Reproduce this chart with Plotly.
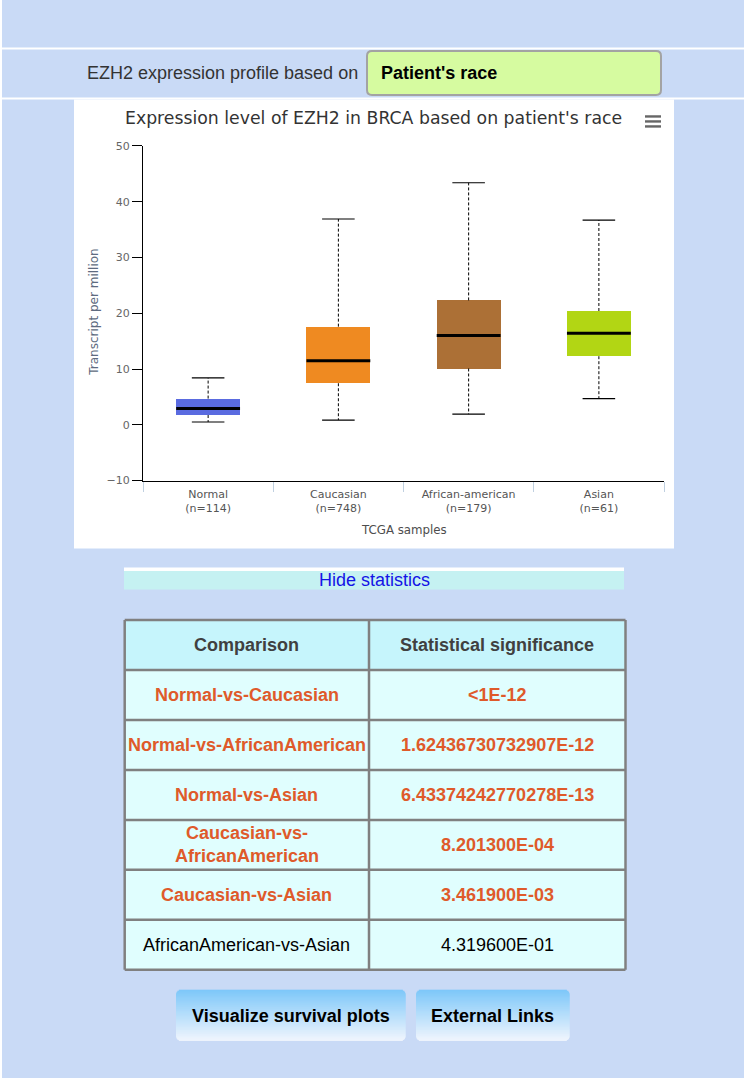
import plotly.graph_objects as go

# ---------------- data ----------------
categories = ["Normal", "Caucasian", "African-american", "Asian"]
sample_sizes = [114, 748, 179, 61]
lower_whisker = [0.5, 0.85, 1.9, 4.7]
q1 = [1.75, 7.45, 10.1, 12.3]
median = [2.9, 11.5, 16.0, 16.4]
q3 = [4.7, 17.6, 22.3, 20.4]
upper_whisker = [8.4, 36.9, 43.4, 36.7]
box_colors = ["#5A6BE0", "#EF8A21", "#AC7036", "#B2D614"]
y_ticks = [-10, 0, 10, 20, 30, 40, 50]

comparisons = [
    "Normal-vs-Caucasian",
    "Normal-vs-AfricanAmerican",
    "Normal-vs-Asian",
    "Caucasian-vs-<br>AfricanAmerican",
    "Caucasian-vs-Asian",
    "AfricanAmerican-vs-Asian",
]
p_values = [
    "<1E-12",
    "1.62436730732907E-12",
    "6.43374242770278E-13",
    "8.201300E-04",
    "3.461900E-03",
    "4.319600E-01",
]
table_headers = ["Comparison", "Statistical significance"]
buttons = ["Visualize survival plots", "External Links"]

# ---------------- page geometry (pixels) ----------------
W, H = 744, 1078
BG = "#C9DAF6"
FS = 18  # page text size
VK = 0.989  # vertical calibration of the photographed page


def px(x):
    return x / W


def py(y):
    yy = H / 2 + (y - H / 2) / VK
    return 1 - yy / H


shapes = []
annotations = []


def rect(x0, y0, x1, y1, fill, line_color=None, line_width=0, layer="below"):
    shapes.append(dict(
        type="rect", xref="paper", yref="paper",
        x0=px(x0), x1=px(x1), y0=py(y1), y1=py(y0),
        fillcolor=fill,
        line=dict(color=line_color or fill, width=line_width),
        layer=layer,
    ))


def rounded_path(x0, y0, x1, y1, r):
    pts = [
        ("M", x0 + r, y0), ("L", x1 - r, y0), ("Q", x1, y0, x1, y0 + r),
        ("L", x1, y1 - r), ("Q", x1, y1, x1 - r, y1), ("L", x0 + r, y1),
        ("Q", x0, y1, x0, y1 - r), ("L", x0, y0 + r), ("Q", x0, y0, x0 + r, y0),
    ]
    s = ""
    for p in pts:
        cmd = p[0]
        coords = p[1:]
        parts = []
        for i in range(0, len(coords), 2):
            parts.append(f"{px(coords[i]):.5f},{py(coords[i+1]):.5f}")
        s += cmd + " " + " ".join(parts) + " "
    return s + "Z"


def text(x, y, t, size=16, color="#333", family="Liberation Sans", xanchor="center",
         yanchor="middle", angle=0):
    annotations.append(dict(
        x=px(x), y=py(y), xref="paper", yref="paper", text=t, showarrow=False,
        xanchor=xanchor, yanchor=yanchor, textangle=angle,
        font=dict(size=size, color=color, family=family),
    ))


# page lines
rect(0, -10, 2, H + 10, "white")
rect(2, 47.5, W, 49.5, "white")
rect(2, 97.5, W, 99.5, "white")

# header
text(85, 73, "EZH2 expression profile based on", size=FS, color="#333", xanchor="left")
shapes.append(dict(type="path", xref="paper", yref="paper",
                   path=rounded_path(367, 51, 661, 95, 5),
                   fillcolor="#D6FBA0", line=dict(color="#A3A3A3", width=2), layer="below"))
text(379, 73, "<b>Patient's race</b>", size=FS, color="#000", xanchor="left")

# chart white area
rect(74, 99.5, 674, 549, "white")

# chart title
CF = "DejaVu Sans"
text(373, 118, "Expression level of EZH2 in BRCA based on patient's race", size=17.3,
     color="#333333", family=CF)
# menu icon
for yy in (116.5, 121.5, 126.5):
    rect(645, yy - 1.2, 661, yy + 1.2, "#666666", layer="above")

# axis titles
text(94, 313, "Transcript per million", size=12, color="#5E6B80", family=CF, angle=-90)
text(404, 530, "TCGA samples", size=11.8, color="#4D4D4D", family=CF)

# ---------------- box plot traces ----------------
xs = list(range(len(categories)))
box_w = 0.49
cap_w = 0.125
med_w = box_w / 2

fig = go.Figure()
fig.add_trace(go.Bar(
    x=xs, base=q1, y=[b - a for a, b in zip(q1, q3)], width=box_w,
    marker=dict(color=box_colors, line=dict(width=0)), hoverinfo="skip", showlegend=False,
))

wx, wy = [], []
for i in xs:
    wx += [i, i, None, i, i, None]
    wy += [q3[i], upper_whisker[i], None, q1[i], lower_whisker[i], None]
fig.add_trace(go.Scatter(x=wx, y=wy, mode="lines",
                         line=dict(color="black", width=1, dash="3px,2px"),
                         hoverinfo="skip", showlegend=False))

cx, cy = [], []
for i in xs:
    cx += [i - cap_w, i + cap_w, None, i - cap_w, i + cap_w, None]
    cy += [upper_whisker[i], upper_whisker[i], None, lower_whisker[i], lower_whisker[i], None]
fig.add_trace(go.Scatter(x=cx, y=cy, mode="lines", line=dict(color="black", width=1.2),
                         hoverinfo="skip", showlegend=False))

mx, my = [], []
for i in xs:
    mx += [i - med_w, i + med_w, None]
    my += [median[i], median[i], None]
fig.add_trace(go.Scatter(x=mx, y=my, mode="lines", line=dict(color="black", width=3),
                         hoverinfo="skip", showlegend=False))

# ---------------- statistics ----------------
rect(124, 568, 624, 571.5, "white")
rect(124, 571.5, 624, 590, "#C5F1F2")
text(374, 580.5, "Hide statistics", size=FS, color="#1414E6")

TX0, TX1, TXM = 124.7, 625.5, 369
TY0, ROW = 620.7, 50
n_rows = len(comparisons) + 1
rect(TX0, TY0, TX1, TY0 + ROW, "#C6F5FC")
rect(TX0, TY0 + ROW, TX1, TY0 + ROW * n_rows, "#E0FEFE")
grid_c = "#808080"
for r in range(n_rows + 1):
    yy = TY0 + r * ROW
    shapes.append(dict(type="line", xref="paper", yref="paper", x0=px(TX0), x1=px(TX1),
                       y0=py(yy), y1=py(yy), line=dict(color=grid_c, width=2.5), layer="below"))
for xx in (TX0, TXM, TX1):
    shapes.append(dict(type="line", xref="paper", yref="paper", x0=px(xx), x1=px(xx),
                       y0=py(TY0), y1=py(TY0 + ROW * n_rows),
                       line=dict(color=grid_c, width=2.5), layer="below"))

c1 = (TX0 + TXM) / 2
c2 = (TXM + TX1) / 2
text(c1, TY0 + ROW / 2, "<b>" + table_headers[0] + "</b>", size=FS, color="#404040")
text(c2, TY0 + ROW / 2, "<b>" + table_headers[1] + "</b>", size=FS, color="#404040")
for r, (comp, p) in enumerate(zip(comparisons, p_values)):
    significant = float(p.lstrip("<")) < 0.05
    yc = TY0 + ROW * (r + 1) + ROW / 2
    if significant:
        t1, t2, col = "<b>" + comp + "</b>", "<b>" + p + "</b>", "#DF5A2A"
    else:
        t1, t2, col = comp, p, "#000000"
    text(c1, yc, t1, size=FS, color=col)
    text(c2, yc, t2, size=FS, color=col)


# ---------------- buttons ----------------
def gradient_button(x0, y0, x1, y1, label, r=5):
    top = (0x6C, 0xC3, 0xFA)
    bot = (0xF8, 0xFB, 0xFE)
    n = int(round(y1 - y0))
    for k in range(n):
        t = k / max(n - 1, 1)
        c = tuple(int(round(top[j] + (bot[j] - top[j]) * t)) for j in range(3))
        d = min(k + 0.5, n - k - 0.5)
        inset = 0.0
        if d < r:
            inset = r - (r * r - (r - d) ** 2) ** 0.5
        rect(x0 + inset, y0 + k, x1 - inset, y0 + k + 1.05,
             "rgb(%d,%d,%d)" % c)
    text((x0 + x1) / 2, (y0 + y1) / 2 + 0.5, "<b>" + label + "</b>", size=FS, color="#000")


gradient_button(176, 990.7, 405.7, 1042, buttons[0])
gradient_button(416, 990.7, 569.7, 1042, buttons[1])

# ---------------- layout ----------------
fig.update_layout(
    width=W, height=H, margin=dict(l=0, r=0, t=0, b=0),
    paper_bgcolor=BG, plot_bgcolor="rgba(0,0,0,0)",
    shapes=shapes, annotations=annotations,
    showlegend=False, bargap=0,
    font=dict(family=CF, color="#666666"),
    xaxis=dict(
        domain=[px(143), px(664)], range=[-0.5, 3.5], type="linear",
        tickvals=xs,
        ticktext=[f"{c}<br>(n={n})" for c, n in zip(categories, sample_sizes)],
        ticks="", showline=True, linecolor="black", linewidth=1,
        showgrid=False, zeroline=False,
        tickfont=dict(size=11, color="#555555", family=CF),
        ticklabelstandoff=3,
        minor=dict(tickvals=[-0.5, 0.5, 1.5, 2.5, 3.5], ticks="outside", ticklen=10,
                   tickcolor="#C0D0E0", tickwidth=1, showgrid=False),
        fixedrange=True,
    ),
    yaxis=dict(
        domain=[py(481), py(146)], range=[-10, 50],
        tickvals=y_ticks, ticks="outside", ticklen=10, tickcolor="black", tickwidth=1,
        showline=True, linecolor="black", linewidth=1,
        showgrid=False, zeroline=False,
        tickfont=dict(size=11, color="#666666", family=CF),
        fixedrange=True,
    ),
)

fig.write_html(
    "out.html",
    config={"displayModeBar": False},
    post_script="document.body.style.margin='0';document.body.style.overflow='hidden';"
                "document.body.style.background='" + BG + "';",
)
